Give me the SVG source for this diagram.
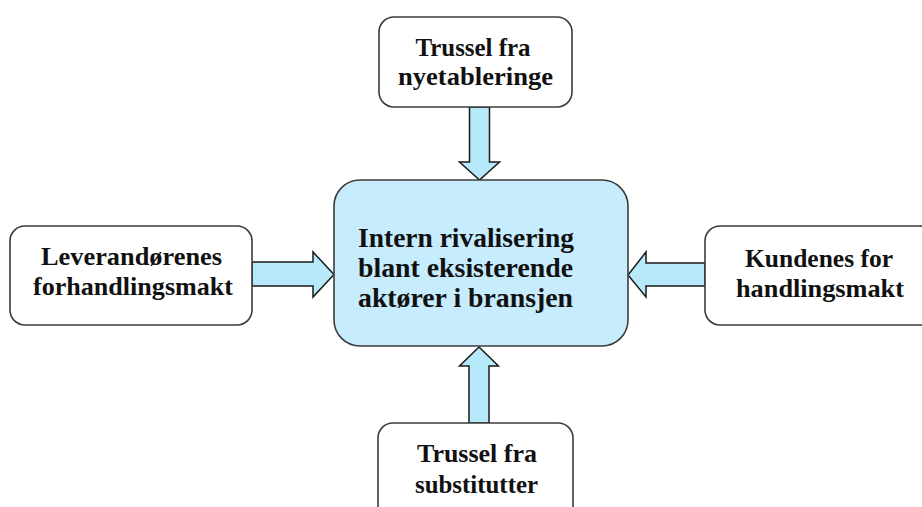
<svg xmlns="http://www.w3.org/2000/svg" width="922" height="507" viewBox="0 0 922 507">
<style>
.box{fill:#ffffff;stroke:#3c3c3c;stroke-width:1.6}
.core{fill:#C6ECFD;stroke:#3c3c3c;stroke-width:1.6}
.arr{fill:#B6E9FA;stroke:#1a1a1a;stroke-width:1.5;stroke-linejoin:miter}
.t{font-family:"Liberation Serif","Times New Roman",serif;font-weight:bold;font-size:25px;fill:#111111}
.tc{font-family:"Liberation Serif","Times New Roman",serif;font-weight:bold;font-size:28px;fill:#111111}
</style>
<rect width="922" height="507" fill="#ffffff"/>
<g id="connectors">
<polygon class="arr" points="469.5,107 489.5,107 489.5,162 499.5,162 479.5,180 459.5,162 469.5,162"/>
<polygon class="arr" points="469,423 489,423 489,366 498.5,366 479,347 459.5,366 469,366"/>
<polygon class="arr" points="252,262 313,262 313,252 334,274.5 313,297 313,286 252,286"/>
<polygon class="arr" points="705,263 646,263 646,252 628,275 646,297 646,286 705,286"/>
</g>
<g id="center">
<rect class="core" x="334" y="180" width="294" height="166" rx="26" ry="26"/>
<text class="tc" x="358" y="247" textLength="216" lengthAdjust="spacingAndGlyphs">Intern rivalisering</text>
<text class="tc" x="358" y="277" textLength="215" lengthAdjust="spacingAndGlyphs">blant eksisterende</text>
<text class="tc" x="358" y="307" textLength="215" lengthAdjust="spacingAndGlyphs">aktører i bransjen</text>
</g>
<g id="top">
<rect class="box" x="379" y="17" width="193" height="90" rx="15" ry="15"/>
<text class="t" x="473" y="56" text-anchor="middle" textLength="115" lengthAdjust="spacingAndGlyphs">Trussel fra</text>
<text class="t" x="475.5" y="85" text-anchor="middle" textLength="155" lengthAdjust="spacingAndGlyphs">nyetableringe</text>
</g>
<g id="left">
<rect class="box" x="10" y="226" width="242" height="99" rx="15" ry="15"/>
<text class="t" x="131.5" y="265" text-anchor="middle" textLength="181" lengthAdjust="spacingAndGlyphs">Leverandørenes</text>
<text class="t" x="133" y="295" text-anchor="middle" textLength="200" lengthAdjust="spacingAndGlyphs">forhandlingsmakt</text>
</g>
<g id="right">
<rect class="box" x="705" y="226" width="230" height="99" rx="15" ry="15"/>
<text class="t" x="819" y="267" text-anchor="middle" textLength="148" lengthAdjust="spacingAndGlyphs">Kundenes for</text>
<text class="t" x="820" y="297" text-anchor="middle" textLength="168" lengthAdjust="spacingAndGlyphs">handlingsmakt</text>
</g>
<g id="bottom">
<rect class="box" x="378" y="423" width="195" height="100" rx="15" ry="15"/>
<text class="t" x="477" y="462" text-anchor="middle" textLength="120" lengthAdjust="spacingAndGlyphs">Trussel fra</text>
<text class="t" x="476.5" y="493" text-anchor="middle" textLength="123" lengthAdjust="spacingAndGlyphs">substitutter</text>
</g>
</svg>
